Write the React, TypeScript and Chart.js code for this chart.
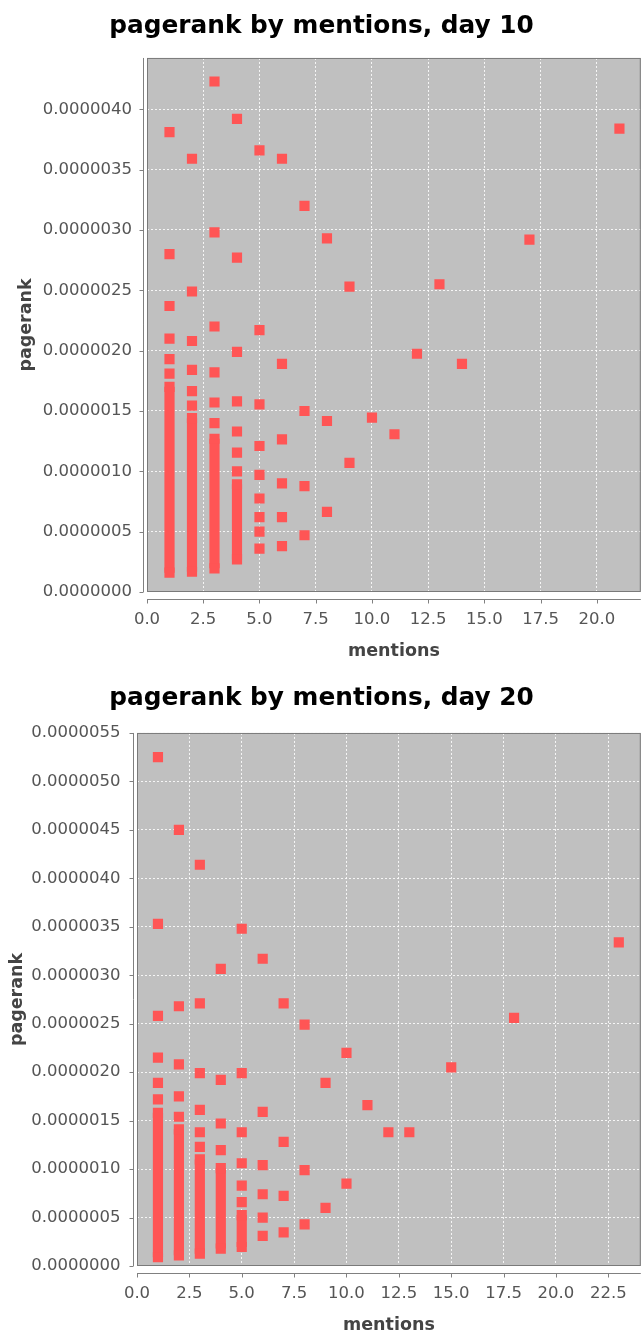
import React, { useEffect, useRef } from "react";
import { Chart, registerables } from "chart.js";

Chart.register(...registerables);

// ---------- data: day 10 ----------
const day10Mentions = [
  1, 1, 1, 1, 1, 1,
  2, 2, 2, 2, 2, 2,
  3, 3, 3, 3, 3, 3,
  4, 4, 4, 4, 4, 4, 4,
  5, 5, 5, 5, 5, 5, 5, 5, 5,
  6, 6, 6, 6, 6, 6,
  7, 7, 7, 7,
  8, 8, 8,
  9, 9,
  10, 11, 12, 13, 14, 17, 21,
];
const day10Pagerank = [
  3.81e-6, 2.8e-6, 2.37e-6, 2.1e-6, 1.93e-6, 1.81e-6,
  3.59e-6, 2.49e-6, 2.08e-6, 1.84e-6, 1.665e-6, 1.545e-6,
  4.23e-6, 2.98e-6, 2.2e-6, 1.82e-6, 1.57e-6, 1.4e-6,
  3.92e-6, 2.77e-6, 1.99e-6, 1.58e-6, 1.33e-6, 1.155e-6, 1.0e-6,
  3.66e-6, 2.17e-6, 1.555e-6, 1.21e-6, 0.97e-6, 0.775e-6, 0.62e-6, 0.5e-6, 0.36e-6,
  3.59e-6, 1.89e-6, 1.265e-6, 0.9e-6, 0.62e-6, 0.38e-6,
  3.2e-6, 1.5e-6, 0.877e-6, 0.47e-6,
  2.93e-6, 1.417e-6, 0.664e-6,
  2.53e-6, 1.07e-6,
  1.445e-6, 1.307e-6, 1.974e-6, 2.55e-6, 1.89e-6, 2.92e-6, 3.84e-6,
];
// dense runs of overlapping points (lowest and highest value of each run)
const day10RunMentions = [1, 2, 3, 4];
const day10RunLow = [0.16e-6, 0.168e-6, 0.196e-6, 0.27e-6];
const day10RunHigh = [1.7e-6, 1.44e-6, 1.27e-6, 0.893e-6];

// ---------- data: day 20 ----------
const day20Mentions = [
  1, 1, 1, 1, 1, 1,
  2, 2, 2, 2, 2,
  3, 3, 3, 3, 3, 3,
  4, 4, 4, 4,
  5, 5, 5, 5, 5, 5,
  6, 6, 6, 6, 6, 6,
  7, 7, 7, 7,
  8, 8, 8,
  9, 9,
  10, 10,
  11, 12, 13, 15, 18, 23,
];
const day20Pagerank = [
  5.25e-6, 3.53e-6, 2.58e-6, 2.15e-6, 1.89e-6, 1.72e-6,
  4.5e-6, 2.68e-6, 2.08e-6, 1.75e-6, 1.54e-6,
  4.14e-6, 2.71e-6, 1.99e-6, 1.61e-6, 1.38e-6, 1.23e-6,
  3.066e-6, 1.92e-6, 1.47e-6, 1.195e-6,
  3.48e-6, 1.99e-6, 1.38e-6, 1.06e-6, 0.83e-6, 0.66e-6,
  3.17e-6, 1.59e-6, 1.04e-6, 0.74e-6, 0.5e-6, 0.31e-6,
  2.71e-6, 1.28e-6, 0.724e-6, 0.347e-6,
  2.49e-6, 0.99e-6, 0.43e-6,
  1.89e-6, 0.6e-6,
  2.2e-6, 0.85e-6,
  1.66e-6, 1.38e-6, 1.38e-6, 2.05e-6, 2.56e-6, 3.34e-6,
];
const day20RunMentions = [1, 2, 3, 4, 5];
const day20RunLow = [0.09e-6, 0.11e-6, 0.127e-6, 0.18e-6, 0.196e-6];
const day20RunHigh = [1.58e-6, 1.41e-6, 1.1e-6, 1.01e-6, 0.525e-6];

// ---------- axis settings ----------
const day10XMax = 21.95;
const day10YMax = 4.425e-6;
const day20XMax = 24.05;
const day20YMax = 5.5e-6;
const xStep = 2.5;
const yStep = 5e-7;

const MARK = "#ff5555";
const GRID = "rgba(255,255,255,0.85)";
const TICK_FONT = { family: "'DejaVu Sans', sans-serif", size: 16.5 };
const AXIS_FONT = { family: "'DejaVu Sans', sans-serif", size: 17.5, weight: "bold" as const };

const plotDecor = {
  id: "plotDecor",
  beforeDraw(chart: any) {
    const { ctx, chartArea: a } = chart;
    ctx.save();
    ctx.fillStyle = "#c0c0c0";
    ctx.fillRect(a.left, a.top, a.right - a.left, a.bottom - a.top);
    ctx.restore();
  },
  afterDraw(chart: any, _args: any, opts: any) {
    const { ctx, chartArea: a } = chart;
    const xs = chart.scales.x;
    const ys = chart.scales.y;
    ctx.save();
    ctx.strokeStyle = "#7a7a7a";
    ctx.lineWidth = 1;
    ctx.strokeRect(a.left + 0.5, a.top + 0.5, a.right - a.left - 1, a.bottom - a.top - 1);
    ctx.strokeStyle = "#808080";
    const ax = Math.round(a.left - opts.yOff) + 0.5;
    const ay = Math.round(a.bottom + opts.xOff) + 0.5;
    ctx.beginPath();
    ctx.moveTo(ax, a.top);
    ctx.lineTo(ax, a.bottom);
    ctx.moveTo(a.left, ay);
    ctx.lineTo(a.right, ay);
    ys.ticks.forEach((t: any) => {
      const p = Math.round(ys.getPixelForValue(t.value)) + 0.5;
      ctx.moveTo(ax - 4, p);
      ctx.lineTo(ax, p);
    });
    xs.ticks.forEach((t: any) => {
      const p = Math.round(xs.getPixelForValue(t.value)) + 0.5;
      ctx.moveTo(p, ay);
      ctx.lineTo(p, ay + 4);
    });
    ctx.stroke();
    ctx.restore();
  },
};

type Spec = {
  title: string;
  mentions: number[];
  pagerank: number[];
  runX: number[];
  runLow: number[];
  runHigh: number[];
  xMax: number;
  yMax: number;
  yWidth: number;
  xHeight: number;
  titlePad: { top: number; bottom: number };
  yTitlePad: number;
  xTitlePad: number;
  yTickPad: number;
};

function makeConfig(s: Spec): any {
  const points = s.mentions.map((m, i) => ({ x: m, y: s.pagerank[i] }));
  const runs: any[] = [];
  s.runX.forEach((m, i) => {
    runs.push({ x: m, y: s.runLow[i] }, { x: m, y: s.runHigh[i] }, { x: m, y: null });
  });
  const pointStyle = {
    pointStyle: "rect",
    pointRadius: 7.2,
    pointHoverRadius: 7.2,
    pointBackgroundColor: MARK,
    pointBorderWidth: 0,
    backgroundColor: MARK,
  };
  const gridOpts = {
    color: GRID,
    lineWidth: 1,
    drawTicks: false,
    borderDash: [2, 2],
    tickBorderDash: [],
  };
  return {
    type: "scatter",
    data: {
      datasets: [
        {
          label: "runs",
          data: runs,
          showLine: true,
          borderColor: MARK,
          borderWidth: 10.2,
          borderCapStyle: "butt",
          spanGaps: false,
          ...pointStyle,
        },
        { label: "pagerank", data: points, ...pointStyle },
      ],
    },
    options: {
      responsive: false,
      animation: false,
      events: [],
      layout: { padding: { left: 0, right: 5, top: 0, bottom: 0 } },
      plugins: {
        legend: { display: false },
        tooltip: { enabled: false },
        title: {
          display: true,
          text: s.title,
          color: "#000",
          font: { family: "'DejaVu Sans', sans-serif", size: 24.8, weight: "bold" },
          padding: s.titlePad,
        },
        plotDecor: { yOff: 4.5, xOff: 7 },
      },
      scales: {
        x: {
          type: "linear",
          min: 0,
          max: s.xMax,
          border: { display: false, dash: [2, 2] },
          grid: gridOpts,
          ticks: {
            stepSize: xStep,
            includeBounds: false,
            padding: 18,
            color: "#555",
            font: TICK_FONT,
            maxRotation: 0,
            callback: (v: any) => Number(v).toFixed(1),
          },
          title: {
            display: true,
            text: "mentions",
            color: "#444",
            font: AXIS_FONT,
            padding: { top: 0, bottom: s.xTitlePad },
          },
          afterFit: (scale: any) => {
            scale.height = s.xHeight;
          },
        },
        y: {
          type: "linear",
          min: 0,
          max: s.yMax,
          border: { display: false, dash: [2, 2] },
          grid: gridOpts,
          ticks: {
            stepSize: yStep,
            includeBounds: false,
            padding: s.yTickPad,
            color: "#555",
            font: TICK_FONT,
            callback: (v: any) => Number(v).toFixed(7),
          },
          title: {
            display: true,
            text: "pagerank",
            color: "#444",
            font: AXIS_FONT,
            padding: { top: s.yTitlePad, bottom: 0 },
          },
          afterFit: (scale: any) => {
            scale.width = s.yWidth;
          },
        },
      },
    },
    plugins: [plotDecor],
  };
}

const spec10: Spec = {
  title: "pagerank by mentions, day 10",
  mentions: day10Mentions,
  pagerank: day10Pagerank,
  runX: day10RunMentions,
  runLow: day10RunLow,
  runHigh: day10RunHigh,
  xMax: day10XMax,
  yMax: day10YMax,
  yWidth: 147,
  xHeight: 76,
  titlePad: { top: 12, bottom: 16.2 },
  yTitlePad: 16,
  xTitlePad: 6,
  yTickPad: 15,
};

const spec20: Spec = {
  title: "pagerank by mentions, day 20",
  mentions: day20Mentions,
  pagerank: day20Pagerank,
  runX: day20RunMentions,
  runLow: day20RunLow,
  runHigh: day20RunHigh,
  xMax: day20XMax,
  yMax: day20YMax,
  yWidth: 137,
  xHeight: 72,
  titlePad: { top: 15.5, bottom: 19.7 },
  yTitlePad: 7,
  xTitlePad: 2,
  yTickPad: 16.5,
};

export default function App() {
  const ref1 = useRef<HTMLCanvasElement>(null);
  const ref2 = useRef<HTMLCanvasElement>(null);

  useEffect(() => {
    const c1 = new Chart(ref1.current as HTMLCanvasElement, makeConfig(spec10));
    const c2 = new Chart(ref2.current as HTMLCanvasElement, makeConfig(spec20));
    return () => {
      c1.destroy();
      c2.destroy();
    };
  }, []);

  return (
    <div
      style={{
        position: "absolute",
        left: 0,
        top: 0,
        width: 641,
        height: 1338,
        overflow: "hidden",
        background: "#fff",
      }}
    >
      <canvas ref={ref1} width={648} height={668} style={{ position: "absolute", left: 0, top: 0 }} />
      <canvas ref={ref2} width={648} height={670} style={{ position: "absolute", left: 0, top: 668 }} />
    </div>
  );
}
